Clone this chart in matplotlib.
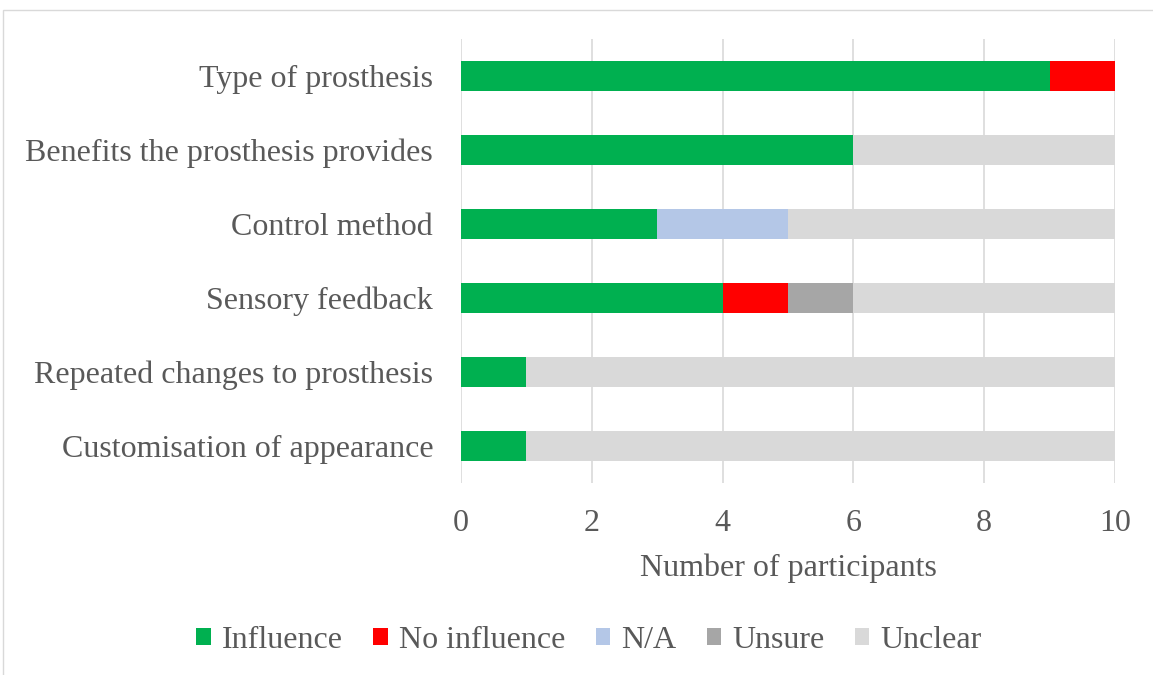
import matplotlib
matplotlib.use("Agg")
import matplotlib.pyplot as plt
from matplotlib.patches import Rectangle
import numpy as np

plt.rcParams['font.family'] = ['Liberation Serif', 'DejaVu Serif']

categories = ["Type of prosthesis", "Benefits the prosthesis provides", "Control method",
              "Sensory feedback", "Repeated changes to prosthesis", "Customisation of appearance"]
series_names = ["Influence", "No influence", "N/A", "Unsure", "Unclear"]
influence = [9, 6, 3, 4, 1, 1]
no_influence = [1, 0, 0, 1, 0, 0]
na = [0, 0, 2, 0, 0, 0]
unsure = [0, 0, 0, 1, 0, 0]
unclear = [0, 4, 5, 4, 9, 9]
xticks = [0, 2, 4, 6, 8, 10]

colors = ["#00B050", "#FF0000", "#B4C7E7", "#A6A6A6", "#D9D9D9"]
textc = "#595959"
fs = 23

fig = plt.figure(figsize=(11.53, 6.75), dpi=100)
fig.patches.append(Rectangle((3/1153, -0.1), 1.2, 1 - 10/675 + 0.1, transform=fig.transFigure,
                             fill=False, edgecolor="#D9D9D9", linewidth=1))
ax = fig.add_axes([461/1153, 1 - 483/675, (1115 - 461)/1153, (483 - 39)/675])

y = np.arange(len(categories))
left = np.zeros(len(categories))
for name, vals, c in zip(series_names, [influence, no_influence, na, unsure, unclear], colors):
    ax.barh(y, vals, left=left, height=0.4, color=c, label=name, zorder=3)
    left += np.array(vals)

ax.set_ylim(len(categories) - 0.5, -0.5)
ax.set_xlim(0, 10)
ax.set_xticks(xticks)
ax.set_yticks(y)
ax.set_yticklabels(categories)
ax.grid(axis='x', color="#D9D9D9", linewidth=1.2, zorder=0)
for s in ax.spines.values():
    s.set_visible(False)
ax.tick_params(axis='both', length=0, labelsize=fs, labelcolor=textc)
ax.tick_params(axis='x', pad=19)
ax.tick_params(axis='y', pad=20)
ax.set_xlabel("Number of participants", fontsize=fs, color=textc, labelpad=11)

leg = fig.legend(loc='center', bbox_to_anchor=(589/1153, 1 - 640/675), ncol=5, frameon=False,
                 fontsize=fs, handlelength=0.45, handleheight=0.45, handletextpad=0.35,
                 columnspacing=0.95)
for t in leg.get_texts():
    t.set_color(textc)

fig.savefig("out.png", dpi=100)
